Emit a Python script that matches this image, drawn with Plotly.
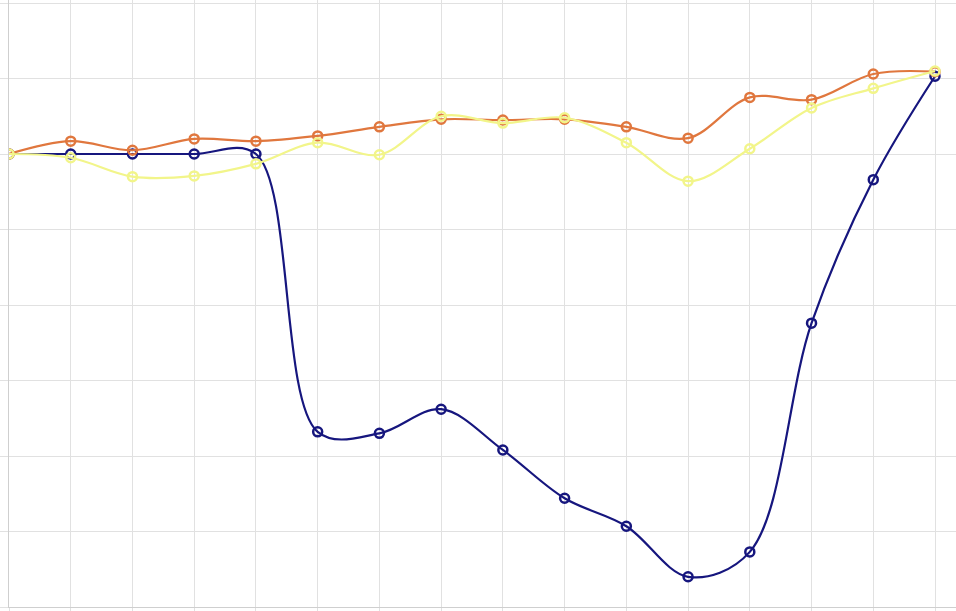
import plotly.graph_objects as go

x_vals = list(range(16))
navy_vals = [100, 100, 100, 100, 100, 63.2, 63.0, 66.2, 60.8, 54.4, 50.7, 44.0, 47.3, 77.6, 96.6, 110.3]
orange_vals = [100, 101.7, 100.5, 102.0, 101.7, 102.4, 103.6, 104.6, 104.5, 104.6, 103.6, 102.1, 107.5, 107.2, 110.6, 110.9]
yellow_vals = [100, 99.5, 97.0, 97.1, 98.7, 101.5, 99.9, 105.0, 104.1, 104.8, 101.5, 96.4, 100.7, 106.1, 108.7, 111.0]

series = [
    ("navy", navy_vals, "#16167e"),
    ("orange", orange_vals, "#e0773e"),
    ("yellow", yellow_vals, "#f2f58a"),
]

fig = go.Figure()
for name, vals, color in series:
    fig.add_trace(go.Scatter(
        x=x_vals, y=vals, name=name, mode="lines+markers",
        line=dict(color=color, width=2.2, shape="spline", smoothing=1),
        marker=dict(symbol="circle-open", size=9, color=color, line=dict(width=2.5, color=color)),
        showlegend=False,
    ))

grid = "#e1e1e1"
axis_col = "#cfcfcf"
fig.update_layout(
    width=956, height=611,
    margin=dict(l=9, r=0, t=0, b=4, autoexpand=False),
    plot_bgcolor="white", paper_bgcolor="white",
    xaxis=dict(range=[0, 15.34], dtick=1, tick0=0, showgrid=True, gridcolor=grid, gridwidth=1,
               showline=True, linecolor=axis_col, linewidth=1, zeroline=False, automargin=False,
               showticklabels=False, ticks="outside", ticklen=6, tickcolor=grid),
    yaxis=dict(range=[40, 120.4], dtick=10, tick0=40, showgrid=True, gridcolor=grid, gridwidth=1,
               showline=True, linecolor=axis_col, linewidth=1, zeroline=False, automargin=False,
               showticklabels=False, ticks="outside", ticklen=9, tickcolor=grid),
)
fig.write_html("out.html", config={"displayModeBar": False},
               post_script="document.body.style.margin='0';document.body.style.padding='0';")
